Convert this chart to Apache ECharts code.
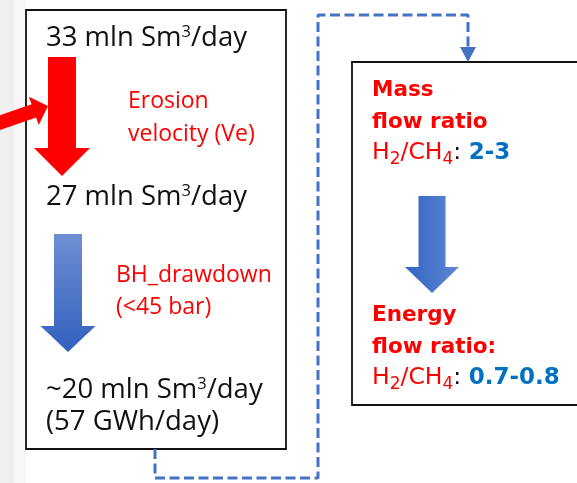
<!DOCTYPE html>
<html>
<head>
<meta charset="utf-8">
<script src="https://cdn.jsdelivr.net/npm/echarts@6/dist/echarts.min.js"></script>
<style>
html,body{margin:0;padding:0;background:#fff;}
#main{width:577px;height:483px;}
</style>
</head>
<body>
<div id="main"></div>
<script>
// ---- diagram data (diagram units = page pixels) ----
const sideBands = [[0, 14, '#efefef'], [14, 26, '#f7f7f7']];
const boxes = [[26, 10, 286, 449], [352, 62, 585, 405]];
// [cx, top, neck, tip, shaftHalf, headHalf, kind]
const blockArrows = [
  [62, 57, 148, 176, 14, 28, 0],
  [68, 234, 326, 352, 14, 27.5, 1],
  [432, 196, 267, 293, 13.5, 27, 2]
];
// side arrow: [x0, y0, tipX, tipY, shaftHalf, headHalf, headLen]
const sideArrow = [[-4, 124, 48, 106, 7, 15, 15]];
const dashedPath = [[155, 449], [155, 478], [318, 478], [318, 15], [468, 15], [468, 48]];
const dashedHead = [[468, 62, 8, 15]];

const flowTexts = ['33 mln Sm{s|3}/day', '27 mln Sm{s|3}/day', '~20 mln Sm{s|3}/day', '(57 GWh/day)'];
const flowPos = [[46, 38], [46, 197], [46, 390], [46, 422]];
const noteTexts = ['Erosion', 'velocity (Ve)', 'BH_drawdown', '(<45 bar)'];
const notePos = [[128, 101], [128, 134], [116, 275], [116, 307]];
const headTexts = ['Mass', 'flow ratio', 'Energy', 'flow ratio:'];
const headPos = [[372, 90], [372, 122], [372, 315], [372, 347]];
const ratioValues = ['2-3', '0.7-0.8'];
const ratioPos = [[372, 153], [372, 378]];

const FONT = '"DejaVu Sans", sans-serif';
const FONT2 = '"Open Sans", sans-serif';
const RED = '#ff0000', BLUE = '#0070c0', ARROWBLUE = '#4472c4';

const chart = echarts.init(document.getElementById('main'), null, {renderer: 'canvas'});

function pt(api, x, y) { return api.coord([x, y]); }

function textSeries(pos, texts, styleFn) {
  return {
    type: 'custom', coordinateSystem: 'cartesian2d', z: 10,
    data: pos,
    renderItem: function (params, api) {
      const p = pt(api, api.value(0), api.value(1));
      return {type: 'text', style: Object.assign({
        text: texts[params.dataIndex], x: p[0], y: p[1],
        align: 'left', verticalAlign: 'middle', fontFamily: FONT
      }, styleFn(params.dataIndex))};
    }
  };
}

const option = {
  animation: false,
  backgroundColor: '#ffffff',
  grid: {left: 0, right: 0, top: 0, bottom: 0},
  xAxis: {type: 'value', min: 0, max: 577, show: false},
  yAxis: {type: 'value', min: 0, max: 483, inverse: true, show: false},
  series: [
    { // grey side band
      type: 'custom', coordinateSystem: 'cartesian2d', z: 1,
      data: sideBands.map(b => [b[0], b[1]]),
      renderItem: function (params, api) {
        const a = pt(api, api.value(0), 0), b = pt(api, api.value(1), 483);
        return {type: 'rect', shape: {x: a[0], y: a[1], width: b[0] - a[0], height: b[1] - a[1]},
          style: {fill: sideBands[params.dataIndex][2]}};
      }
    },
    { // boxes
      type: 'custom', coordinateSystem: 'cartesian2d', z: 2,
      data: boxes,
      renderItem: function (params, api) {
        const a = pt(api, api.value(0), api.value(1)), b = pt(api, api.value(2), api.value(3));
        return {type: 'rect', shape: {x: a[0], y: a[1], width: b[0] - a[0], height: b[1] - a[1]},
          style: {fill: '#ffffff', stroke: '#111111', lineWidth: 1.8}};
      }
    },
    { // dashed connector
      type: 'line', z: 3, data: dashedPath, symbol: 'none', silent: true,
      lineStyle: {color: ARROWBLUE, width: 3, type: [10, 4.5]}
    },
    { // connector arrowhead
      type: 'custom', coordinateSystem: 'cartesian2d', z: 3,
      data: dashedHead,
      renderItem: function (params, api) {
        const x = api.value(0), tip = api.value(1), hw = api.value(2), len = api.value(3);
        return {type: 'polygon', shape: {points: [pt(api, x - hw, tip - len), pt(api, x + hw, tip - len), pt(api, x, tip)]},
          style: {fill: ARROWBLUE}};
      }
    },
    { // block arrows
      type: 'custom', coordinateSystem: 'cartesian2d', z: 4,
      data: blockArrows,
      renderItem: function (params, api) {
        const cx = api.value(0), top = api.value(1), neck = api.value(2), tip = api.value(3);
        const s = api.value(4), h = api.value(5), kind = api.value(6);
        const pts = [[cx - s, top], [cx + s, top], [cx + s, neck], [cx + h, neck], [cx, tip], [cx - h, neck], [cx - s, neck]]
          .map(q => pt(api, q[0], q[1]));
        let fill = RED;
        if (kind === 1) fill = new echarts.graphic.LinearGradient(0, 0, 0, 1, [{offset: 0, color: '#6d8fd3'}, {offset: 1, color: '#3360bd'}]);
        if (kind === 2) fill = new echarts.graphic.LinearGradient(0, 0, 1, 0, [{offset: 0, color: '#3363c2'}, {offset: 1, color: '#5f88d2'}]);
        return {type: 'polygon', shape: {points: pts}, style: {fill: fill}};
      }
    },
    { // side red arrow
      type: 'custom', coordinateSystem: 'cartesian2d', z: 4,
      data: sideArrow,
      renderItem: function (params, api) {
        const x0 = api.value(0), y0 = api.value(1), tx = api.value(2), ty = api.value(3);
        const s = api.value(4), h = api.value(5), L = api.value(6);
        const dx = tx - x0, dy = ty - y0, len = Math.hypot(dx, dy);
        const ux = dx / len, uy = dy / len, nx = -uy, ny = ux;
        const bx = tx - ux * L, by = ty - uy * L;
        const pts = [
          [x0 + nx * s, y0 + ny * s], [bx + nx * s, by + ny * s], [bx + nx * h, by + ny * h],
          [tx, ty],
          [bx - nx * h, by - ny * h], [bx - nx * s, by - ny * s], [x0 - nx * s, y0 - ny * s]
        ].map(q => pt(api, q[0], q[1]));
        return {type: 'polygon', shape: {points: pts}, style: {fill: RED}};
      }
    },
    textSeries(flowPos, flowTexts, () => ({
      fill: '#111111', fontSize: 27.5, lineHeight: 29, fontFamily: FONT2,
      rich: {s: {fontSize: 16.5, fill: '#111111', verticalAlign: 'top', fontFamily: FONT2}}
    })),
    textSeries(notePos, noteTexts, () => ({fill: RED, fontSize: 23, fontFamily: FONT2})),
    textSeries(headPos, headTexts, () => ({fill: RED, fontSize: 21.5, fontWeight: 'bold'})),
    textSeries(ratioPos, ratioValues.map(v => 'H{b|2}/CH{b|4}{k|:} {v|' + v + '}'), () => ({
      fill: RED, fontSize: 23.5, lineHeight: 31,
      rich: {
        b: {fontSize: 17, fill: RED, verticalAlign: 'bottom', fontFamily: FONT},
        k: {fontSize: 23.5, fill: '#111111', fontFamily: FONT},
        v: {fontSize: 23, fill: BLUE, fontWeight: 'bold', fontFamily: FONT}
      }
    }))
  ]
};
chart.setOption(option);
</script>
</body>
</html>
